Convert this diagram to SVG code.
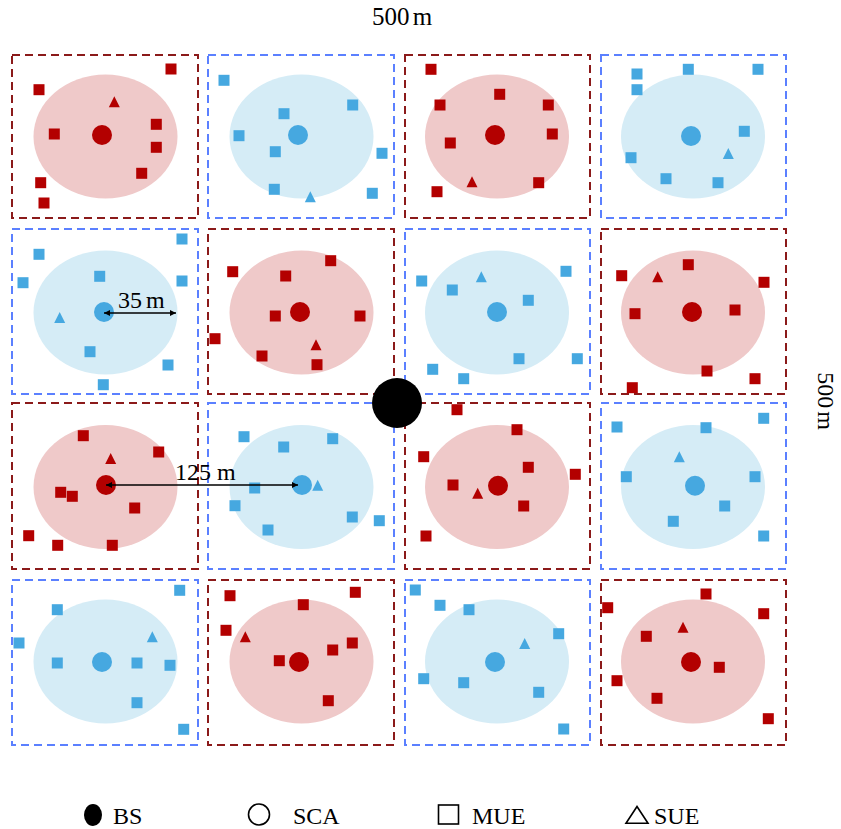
<svg xmlns="http://www.w3.org/2000/svg" xmlns:xlink="http://www.w3.org/1999/xlink" width="841" height="829" viewBox="0 0 841 829">
<style>
.bg{fill:#ffffff}
.boxr{fill:none;stroke:#8b1a1a;stroke-width:2;stroke-dasharray:8 5}
.boxb{fill:none;stroke:#5b80ff;stroke-width:2;stroke-dasharray:8 5}
.elr{fill:#efc9c9}
.elb{fill:#d5ecf6}
.r{fill:#b30000}
.b{fill:#46a8e0}
.t{font-family:"Liberation Serif","Times New Roman",serif;fill:#000000}
.dim{stroke:#000;stroke-width:1.3;fill:none}
</style>
<defs>
<rect id="sq" x="-5.5" y="-5.5" width="11" height="11"/>
<path id="tri" d="M-5.5,5 L5.5,5 L0,-6 Z"/>
<marker id="ah" viewBox="0 0 10 10" refX="10" refY="5" markerWidth="6" markerHeight="6" markerUnits="userSpaceOnUse" orient="auto-start-reverse">
<path d="M0,0 L10,5 L0,10 Z" fill="#000"/>
</marker>
</defs>
<rect class="bg" x="0" y="0" width="841" height="829"/>

<g id="cell-r1c1">
<rect class="boxr" x="12" y="55" width="186" height="163"/>
<ellipse class="elr" cx="105.5" cy="136.5" rx="72" ry="62"/>
<use href="#sq" class="r" x="171" y="69"/><use href="#sq" class="r" x="39" y="89.7"/><use href="#sq" class="r" x="54.3" y="134"/><use href="#sq" class="r" x="156.3" y="124.3"/><use href="#sq" class="r" x="156.3" y="147.3"/><use href="#sq" class="r" x="141.7" y="173.3"/><use href="#sq" class="r" x="40.7" y="182.7"/><use href="#sq" class="r" x="44" y="203"/>
<use href="#tri" class="r" x="114.3" y="102.3"/>
<circle class="r" cx="102" cy="135" r="10"/>
</g>
<g id="cell-r1c2">
<rect class="boxb" x="208" y="55" width="186" height="163"/>
<ellipse class="elb" cx="301.5" cy="136.5" rx="72" ry="62"/>
<use href="#sq" class="b" x="224" y="80.3"/><use href="#sq" class="b" x="352.7" y="105"/><use href="#sq" class="b" x="284" y="113.7"/><use href="#sq" class="b" x="239" y="135.7"/><use href="#sq" class="b" x="275.3" y="151.7"/><use href="#sq" class="b" x="382" y="153.3"/><use href="#sq" class="b" x="274.3" y="189.3"/><use href="#sq" class="b" x="372.3" y="193.3"/>
<use href="#tri" class="b" x="310.3" y="197.3"/>
<circle class="b" cx="298" cy="135" r="10"/>
</g>
<g id="cell-r1c3">
<rect class="boxr" x="405" y="55" width="185" height="163"/>
<ellipse class="elr" cx="497" cy="136.5" rx="72" ry="62"/>
<use href="#sq" class="r" x="431" y="69.3"/><use href="#sq" class="r" x="499.7" y="94.3"/><use href="#sq" class="r" x="440" y="105"/><use href="#sq" class="r" x="548.3" y="105"/><use href="#sq" class="r" x="552.3" y="134"/><use href="#sq" class="r" x="450.3" y="143"/><use href="#sq" class="r" x="538.7" y="182.7"/><use href="#sq" class="r" x="437" y="191.7"/>
<use href="#tri" class="r" x="472" y="182.3"/>
<circle class="r" cx="495" cy="135" r="10"/>
</g>
<g id="cell-r1c4">
<rect class="boxb" x="601" y="55" width="185" height="163"/>
<ellipse class="elb" cx="693" cy="136.5" rx="72" ry="62"/>
<use href="#sq" class="b" x="688.3" y="69.3"/><use href="#sq" class="b" x="758" y="69.3"/><use href="#sq" class="b" x="637" y="74"/><use href="#sq" class="b" x="637" y="89.7"/><use href="#sq" class="b" x="744.3" y="131.3"/><use href="#sq" class="b" x="631" y="157.7"/><use href="#sq" class="b" x="666" y="178.7"/><use href="#sq" class="b" x="718" y="182.7"/>
<use href="#tri" class="b" x="728.3" y="154"/>
<circle class="b" cx="691" cy="136" r="10"/>
</g>

<g id="cell-r2c1">
<rect class="boxb" x="12" y="229" width="186" height="165"/>
<ellipse class="elb" cx="105.5" cy="312.5" rx="72" ry="62"/>
<use href="#sq" class="b" x="182" y="239"/><use href="#sq" class="b" x="39" y="254.3"/><use href="#sq" class="b" x="23" y="282.7"/><use href="#sq" class="b" x="99.7" y="276.3"/><use href="#sq" class="b" x="182" y="281"/><use href="#sq" class="b" x="90" y="351.7"/><use href="#sq" class="b" x="168" y="365"/><use href="#sq" class="b" x="103.3" y="384.7"/>
<use href="#tri" class="b" x="59.7" y="318"/>
<circle class="b" cx="104" cy="312" r="10"/>
</g>
<g id="cell-r2c2">
<rect class="boxr" x="208" y="229" width="186" height="165"/>
<ellipse class="elr" cx="301.5" cy="312.5" rx="72" ry="62"/>
<use href="#sq" class="r" x="330.7" y="260.7"/><use href="#sq" class="r" x="232.7" y="271.7"/><use href="#sq" class="r" x="285.7" y="276"/><use href="#sq" class="r" x="275.3" y="316"/><use href="#sq" class="r" x="360" y="316"/><use href="#sq" class="r" x="215" y="338.7"/><use href="#sq" class="r" x="262" y="356"/><use href="#sq" class="r" x="317" y="364.7"/>
<use href="#tri" class="r" x="316" y="345.3"/>
<circle class="r" cx="300" cy="312" r="10"/>
</g>
<g id="cell-r2c3">
<rect class="boxb" x="405" y="229" width="185" height="165"/>
<ellipse class="elb" cx="497" cy="312.5" rx="72" ry="62"/>
<use href="#sq" class="b" x="421.7" y="281"/><use href="#sq" class="b" x="566" y="271.3"/><use href="#sq" class="b" x="452.3" y="290"/><use href="#sq" class="b" x="528.3" y="300.3"/><use href="#sq" class="b" x="519" y="358.7"/><use href="#sq" class="b" x="577.3" y="358.7"/><use href="#sq" class="b" x="432.7" y="369.3"/><use href="#sq" class="b" x="463.7" y="378.7"/>
<use href="#tri" class="b" x="481.3" y="277.3"/>
<circle class="b" cx="497" cy="312" r="10"/>
</g>
<g id="cell-r2c4">
<rect class="boxr" x="601" y="229" width="185" height="165"/>
<ellipse class="elr" cx="693" cy="312.5" rx="72" ry="62"/>
<use href="#sq" class="r" x="688.3" y="264.7"/><use href="#sq" class="r" x="621.7" y="275.7"/><use href="#sq" class="r" x="764" y="282.3"/><use href="#sq" class="r" x="635" y="313.7"/><use href="#sq" class="r" x="735" y="310"/><use href="#sq" class="r" x="707" y="371"/><use href="#sq" class="r" x="755" y="378.7"/><use href="#sq" class="r" x="632.3" y="387.7"/>
<use href="#tri" class="r" x="657.7" y="277.3"/>
<circle class="r" cx="692" cy="312" r="10"/>
</g>

<g id="cell-r3c1">
<rect class="boxr" x="12" y="403" width="186" height="166"/>
<ellipse class="elr" cx="105.5" cy="487" rx="72" ry="62"/>
<use href="#sq" class="r" x="83.3" y="435.7"/><use href="#sq" class="r" x="158.7" y="452"/><use href="#sq" class="r" x="60.7" y="492.3"/><use href="#sq" class="r" x="72.3" y="496.3"/><use href="#sq" class="r" x="134.7" y="508"/><use href="#sq" class="r" x="28.7" y="535.7"/><use href="#sq" class="r" x="57.7" y="545.3"/><use href="#sq" class="r" x="112.3" y="545.3"/>
<use href="#tri" class="r" x="110.7" y="459"/>
<circle class="r" cx="106" cy="485" r="10"/>
</g>
<g id="cell-r3c2">
<rect class="boxb" x="208" y="403" width="186" height="166"/>
<ellipse class="elb" cx="301.5" cy="487" rx="72" ry="62"/>
<use href="#sq" class="b" x="244" y="436.7"/><use href="#sq" class="b" x="332.7" y="438.7"/><use href="#sq" class="b" x="283.7" y="447"/><use href="#sq" class="b" x="254.7" y="488"/><use href="#sq" class="b" x="235" y="505.7"/><use href="#sq" class="b" x="352.3" y="517"/><use href="#sq" class="b" x="379.3" y="520.7"/><use href="#sq" class="b" x="268" y="530"/>
<use href="#tri" class="b" x="317.7" y="485.7"/>
<circle class="b" cx="302" cy="485" r="10"/>
</g>
<g id="cell-r3c3">
<rect class="boxr" x="405" y="403" width="185" height="166"/>
<ellipse class="elr" cx="497" cy="487" rx="72" ry="62"/>
<use href="#sq" class="r" x="457" y="409.7"/><use href="#sq" class="r" x="517" y="429.7"/><use href="#sq" class="r" x="423.7" y="456.7"/><use href="#sq" class="r" x="528.3" y="467.3"/><use href="#sq" class="r" x="575.3" y="474.3"/><use href="#sq" class="r" x="453" y="485"/><use href="#sq" class="r" x="523.7" y="506"/><use href="#sq" class="r" x="426" y="536"/>
<use href="#tri" class="r" x="477.7" y="493.7"/>
<circle class="r" cx="498" cy="485.7" r="10"/>
</g>
<g id="cell-r3c4">
<rect class="boxb" x="601" y="403" width="185" height="166"/>
<ellipse class="elb" cx="693" cy="487" rx="72" ry="62"/>
<use href="#sq" class="b" x="763.7" y="418.3"/><use href="#sq" class="b" x="617" y="427"/><use href="#sq" class="b" x="706" y="427.7"/><use href="#sq" class="b" x="626.3" y="476.7"/><use href="#sq" class="b" x="755" y="476.7"/><use href="#sq" class="b" x="724.7" y="506"/><use href="#sq" class="b" x="673.3" y="521.3"/><use href="#sq" class="b" x="763.7" y="536"/>
<use href="#tri" class="b" x="679.3" y="457.3"/>
<circle class="b" cx="695" cy="485.7" r="10"/>
</g>

<g id="cell-r4c1">
<rect class="boxb" x="12" y="580" width="186" height="165"/>
<ellipse class="elb" cx="105.5" cy="661.5" rx="72" ry="62"/>
<use href="#sq" class="b" x="179.7" y="590.3"/><use href="#sq" class="b" x="57.3" y="609.7"/><use href="#sq" class="b" x="19" y="643"/><use href="#sq" class="b" x="57.3" y="663"/><use href="#sq" class="b" x="137" y="663"/><use href="#sq" class="b" x="170" y="665.3"/><use href="#sq" class="b" x="137" y="702.7"/><use href="#sq" class="b" x="183.7" y="729.3"/>
<use href="#tri" class="b" x="152.3" y="637.3"/>
<circle class="b" cx="102" cy="662" r="10"/>
</g>
<g id="cell-r4c2">
<rect class="boxr" x="208" y="580" width="186" height="165"/>
<ellipse class="elr" cx="301.5" cy="661.5" rx="72" ry="62"/>
<use href="#sq" class="r" x="230" y="595.7"/><use href="#sq" class="r" x="355.3" y="592.3"/><use href="#sq" class="r" x="303.3" y="604.7"/><use href="#sq" class="r" x="226" y="630.3"/><use href="#sq" class="r" x="352.3" y="643"/><use href="#sq" class="r" x="332.7" y="650"/><use href="#sq" class="r" x="279.3" y="660.7"/><use href="#sq" class="r" x="328.3" y="700.7"/>
<use href="#tri" class="r" x="245.3" y="637.3"/>
<circle class="r" cx="299" cy="662" r="10"/>
</g>
<g id="cell-r4c3">
<rect class="boxb" x="405" y="580" width="185" height="165"/>
<ellipse class="elb" cx="497" cy="661.5" rx="72" ry="62"/>
<use href="#sq" class="b" x="415.3" y="590"/><use href="#sq" class="b" x="440" y="605.3"/><use href="#sq" class="b" x="469" y="609.7"/><use href="#sq" class="b" x="558.7" y="633.7"/><use href="#sq" class="b" x="423.7" y="678.7"/><use href="#sq" class="b" x="463.7" y="682.7"/><use href="#sq" class="b" x="538.7" y="692.3"/><use href="#sq" class="b" x="563.7" y="729"/>
<use href="#tri" class="b" x="524.7" y="644"/>
<circle class="b" cx="495" cy="662" r="10"/>
</g>
<g id="cell-r4c4">
<rect class="boxr" x="601" y="580" width="185" height="165"/>
<ellipse class="elr" cx="693" cy="661.5" rx="72" ry="62"/>
<use href="#sq" class="r" x="706" y="594"/><use href="#sq" class="r" x="607.7" y="607.7"/><use href="#sq" class="r" x="763.7" y="613.7"/><use href="#sq" class="r" x="646.3" y="636.3"/><use href="#sq" class="r" x="719.3" y="667.3"/><use href="#sq" class="r" x="617" y="680.7"/><use href="#sq" class="r" x="657" y="698.3"/><use href="#sq" class="r" x="768.3" y="718.7"/>
<use href="#tri" class="r" x="683" y="627.7"/>
<circle class="r" cx="691" cy="662" r="10"/>
</g>

<g id="macro-bs">
<circle cx="397" cy="403" r="25" fill="#000"/>
</g>

<g id="connectors">
<line class="dim" x1="104" y1="313" x2="176" y2="313" marker-start="url(#ah)" marker-end="url(#ah)"/>
<line class="dim" x1="106" y1="485" x2="298" y2="485" marker-start="url(#ah)" marker-end="url(#ah)"/>
</g>

<g id="labels">
<text class="t" x="402" y="25" font-size="25" text-anchor="middle" word-spacing="-3">500 m</text>
<text class="t" font-size="24" text-anchor="middle" word-spacing="-3" transform="translate(818,401) rotate(90)">500 m</text>
<text class="t" x="118" y="308" font-size="24" word-spacing="-2">35 m</text>
<text class="t" x="175" y="480" font-size="24">125 m</text>
</g>

<g id="legend">
<ellipse cx="93" cy="815" rx="9" ry="11" fill="#000"/>
<text class="t" x="113" y="823.5" font-size="24">BS</text>
<circle cx="259" cy="814.5" r="10.5" fill="none" stroke="#000" stroke-width="1.6"/>
<text class="t" x="293" y="823.5" font-size="24">SCA</text>
<rect x="438.5" y="805" width="20" height="19" fill="none" stroke="#000" stroke-width="1.6"/>
<text class="t" x="472" y="823.5" font-size="24">MUE</text>
<path d="M626,823.2 L648,823.2 L637,806.5 Z" fill="none" stroke="#000" stroke-width="1.6"/>
<text class="t" x="654" y="823.5" font-size="24">SUE</text>
</g>
</svg>
